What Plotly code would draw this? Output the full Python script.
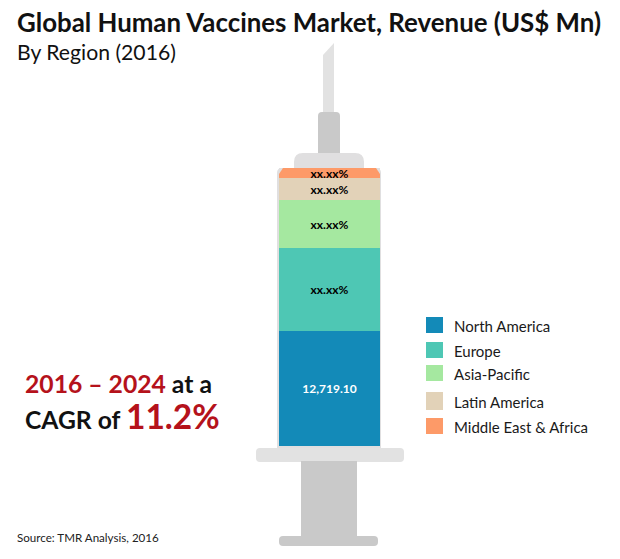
import plotly.graph_objects as go

WIDTH = 620
HEIGHT = 559

regions = ["North America", "Europe", "Asia-Pacific", "Latin America", "Middle East & Africa"]
revenue = [12719.10, 9180, 5310, 2430, 1110]
bar_labels = ["12,719.10", "xx.xx%", "xx.xx%", "xx.xx%", "xx.xx%"]
region_colors = ["#138ab8", "#4ec7b4", "#a5e8a0", "#e2d2b8", "#fd9a68"]
label_colors = ["white", "black", "black", "black", "black"]
year = ["2016"]

LABEL_FONT = "Lato"
GREY_LIGHT = "#e0dfe0"
GREY_DARK = "#c9c9c9"
RED = "#b5121b"

# revenue per screen pixel, bar base sits at y=446
per_px = sum(revenue) / 278


def px_x(x):
    return x / WIDTH


def px_y(y):
    return 1 - y / HEIGHT


def part(x0, y0, x1, y1, color, r_top, r_bot=None):
    if r_bot is None:
        r_bot = r_top
    d = (
        f"M{px_x(x0)},{px_y(y0 + r_top)} Q{px_x(x0)},{px_y(y0)} {px_x(x0 + r_top)},{px_y(y0)} "
        f"L{px_x(x1 - r_top)},{px_y(y0)} Q{px_x(x1)},{px_y(y0)} {px_x(x1)},{px_y(y0 + r_top)} "
        f"L{px_x(x1)},{px_y(y1 - r_bot)} Q{px_x(x1)},{px_y(y1)} {px_x(x1 - r_bot)},{px_y(y1)} "
        f"L{px_x(x0 + r_bot)},{px_y(y1)} Q{px_x(x0)},{px_y(y1)} {px_x(x0)},{px_y(y1 - r_bot)} Z"
    )
    return dict(type="path", path=d, xref="paper", yref="paper",
                fillcolor=color, line_width=0, layer="below")


def poly(points, color, layer="below"):
    d = "M" + " L".join(f"{px_x(x)},{px_y(y)}" for x, y in points) + " Z"
    return dict(type="path", path=d, xref="paper", yref="paper",
                fillcolor=color, line_width=0, layer=layer)


def note(text, x, y, size, color="#111111"):
    return dict(text=text, x=px_x(x), y=px_y(y), xref="paper", yref="paper",
                xanchor="left", yanchor="middle", showarrow=False,
                font=dict(family=LABEL_FONT, size=size, color=color))


fig = go.Figure()
for name, val, lab, col, lab_col in zip(regions, revenue, bar_labels, region_colors, label_colors):
    fig.add_trace(go.Bar(
        x=year, y=[val], name=name, width=1,
        marker=dict(color=col, line_width=0),
        text=[lab], textposition="inside", insidetextanchor="middle",
        textangle=0, constraintext="none", cliponaxis=False,
        textfont=dict(family=LABEL_FONT, size=12, color=lab_col, weight="bold"),
        hoverinfo="name+y",
    ))

shapes = [
    poly([(323, 55), (334, 43), (334, 114), (323, 114)], "#e2e2e2"),
    part(318, 112, 340, 155, GREY_DARK, 4, 0),
    part(294, 153, 364, 172, GREY_LIGHT, 9, 0),
    part(277, 168, 381, 448, GREY_LIGHT, 5, 0),
    part(256, 448, 404, 462, "#e2e2e2", 4),
    part(301, 461, 357, 537, GREY_DARK, 0),
    part(279, 536, 378, 546, GREY_DARK, 4),
    # the barrel's rounded shoulders cut the top segment's corners
    poly([(279, 168), (283, 168), (279, 174)], GREY_LIGHT, "above"),
    poly([(380, 168), (376, 168), (380, 174)], GREY_LIGHT, "above"),
]

# hand placed key, the spacing in the original is not even
key_top = [317, 342, 365, 392, 418]
key_height = [16, 16, 16, 18, 16]
key_label_y = [325.5, 351, 374, 402, 427]

annotations = []
for name, col, top, h, ly in zip(regions, region_colors, key_top, key_height, key_label_y):
    shapes.append(part(426, top, 443, top + h, col, 0))
    annotations.append(note(name, 452, ly, 15, "#1a1a1a"))

annotations += [
    note("By Region (2016)", 15, 52, 21.2),
    note(f"<b><span style='color:{RED}'>2016 – 2024</span> at a</b>", 23, 383, 24.7),
    note(f"<b>CAGR of <span style='color:{RED};font-size:33.5px'>11.2%</span></b>", 23, 416, 24.7),
    note("Source: TMR Analysis, 2016", 15, 537, 11.6, "#222222"),
]

fig.update_layout(
    width=WIDTH, height=HEIGHT,
    barmode="stack", showlegend=False,
    paper_bgcolor="white", plot_bgcolor="rgba(0,0,0,0)",
    margin=dict(l=0, r=0, t=0, b=0),
    title=dict(
        text="<b>Global Human Vaccines Market, Revenue (US$ Mn)</b>",
        x=px_x(17), xanchor="left", xref="paper",
        y=px_y(23), yanchor="middle", yref="container",
        font=dict(family=LABEL_FONT, size=25.85, color="#111111"),
    ),
    shapes=shapes,
    annotations=annotations,
    xaxis=dict(visible=False, type="category",
               range=[-329.5 / 101, (WIDTH - 329.5) / 101]),
    yaxis=dict(visible=False, range=[-(HEIGHT - 446) * per_px, 446 * per_px]),
)

fig.write_html("out.html", config={"displayModeBar": False},
               post_script="document.body.style.margin='0';")
